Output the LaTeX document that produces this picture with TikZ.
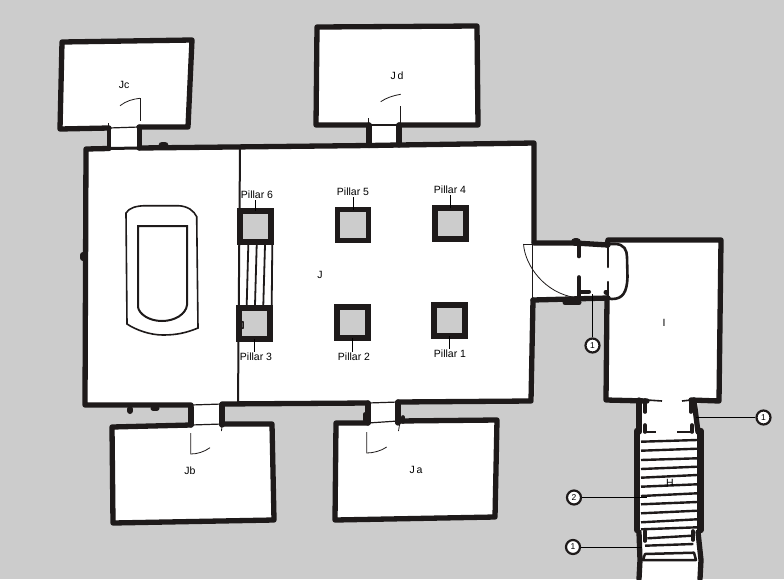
\documentclass[tikz,border=0pt]{standalone}
\usepackage{fontspec}
\setmainfont{Liberation Sans}
\definecolor{bggray}{HTML}{CCCCCC}
\definecolor{wallc}{HTML}{1E1A1A}
\tikzset{
  wall/.style={draw=wallc,line width=5.3pt,line join=round,line cap=round},
  midwall/.style={draw=wallc,line width=3.5pt,line join=round,line cap=round},
  jamb/.style={draw=wallc,line width=3.6pt,line cap=round},
  thinwall/.style={draw=wallc,line width=1.6pt},
  doorline/.style={draw=wallc,line width=1.2pt},
  tread/.style={draw=wallc,line width=2.4pt},
  hair/.style={draw=wallc,line width=0.8pt},
  pillarbox/.style={draw=wallc,fill=bggray,line width=5.5pt,inner sep=0pt,outer sep=0pt,minimum width=#1,minimum height=#1},
  lab/.style={font=\fontsize{10.5}{12}\selectfont,inner sep=0.5pt,text=black},
  callout/.style={circle,draw=wallc,fill=white,line width=2.2pt,minimum size=14pt,inner sep=0pt,font=\fontsize{8.5}{10}\selectfont},
  leader/.style={draw=black,line width=1pt}
}
\begin{document}
\begin{tikzpicture}[x=1pt,y=-1pt]
\useasboundingbox (0,0) rectangle (784,579);
\fill[bggray] (0,0) rectangle (784,579);
% floors
\fill[white] (86,149) -- (534,143) -- (534,401) -- (85,405) -- cycle;
\fill[white] (62,41) -- (192,39) -- (188,128) -- (60,129) -- cycle;
\fill[white] (109,126) rectangle (139,149);
\fill[white] (317,26) -- (477,26) -- (478,125) -- (316,125) -- cycle;
\fill[white] (369,123) rectangle (399,146);
\fill[white] (112,427) -- (272,424) -- (274,521) -- (113,523) -- cycle;
\fill[white] (191,403) rectangle (222,428);
\fill[white] (336,423) -- (497,420) -- (495,517) -- (335,520) -- cycle;
\fill[white] (368,400) rectangle (398,424);
\fill[white] (533,243) -- (608,245) -- (615,245) .. controls (624,244) and (627,250) .. (627,257) -- (627,277) .. controls (627,292) and (623,299) .. (612,299) -- (533,300) -- cycle;
\fill[white] (608,239) -- (721,239) -- (720,401) -- (606,401) -- cycle;
\fill[white] (639,400) -- (698,400) -- (701,579) -- (639,579) -- cycle;
% hall
\draw[wall] (534,242) -- (534,143) -- (399,145) -- (369,145.5);
\draw[wall] (369,145.5) -- (139,148);
\draw[wall] (109,148.5) -- (86,149) -- (85,405) -- (191,405);
\draw[wall,line width=3pt] (109,148.5) -- (139,148);
\draw[wall] (222,404) -- (368,403);
\draw[wall] (398,402) -- (531,401) -- (533,300);
\draw[doorline] (191,405) -- (222,404);
\draw[doorline] (368,403) -- (398,402);
\draw[doorline] (369,145.5) -- (399,145);
\draw[draw=wallc,line width=2pt] (240,149) -- (238,405);
% Jc
\draw[wall] (109,128) -- (60,129) -- (62,42) -- (192,40) -- (188,127) -- (139,127);
\draw[midwall,line width=4.5pt] (109,128) -- (109,148);
\draw[midwall,line width=5pt] (139,127) -- (139,148);
\draw[doorline] (109,128) -- (139,127);
\draw[hair] (140.3,98) -- (140.3,121);
\draw[hair] (120,105.7) .. controls (126,101) and (133,99) .. (140,98.3);
\draw[hair] (108.5,123) -- (108.5,128);
\draw[wall,line width=7pt] (162,145) -- (165,145);
% Jd
\draw[wall] (369,125) -- (316,125) -- (317,27) -- (477,26) -- (478,125) -- (399,125);
\draw[wall] (369,125) -- (369,145);
\draw[wall] (399,125) -- (399,145);
\draw[doorline] (369,125) -- (399,125);
\draw[hair] (400.7,106) -- (400.7,123);
\draw[hair] (380.7,101.7) .. controls (386,98) and (393,95.5) .. (400.7,94.3);
\draw[hair] (368.5,118) -- (368.5,123);
% Jb
\draw[wall] (191,425) -- (112,427) -- (113,523) -- (274,520) -- (272,424) -- (222,424);
\draw[wall] (191,407) -- (191,425);
\draw[wall] (222,405) -- (222,425);
\draw[doorline] (191,425) -- (222,424);
\draw[hair] (190.7,433) -- (190.7,454) .. controls (197,454) and (204,452) .. (210,447.7);
\draw[hair] (222,425) -- (221.5,431);
\draw[wall,line width=6pt] (130,409) -- (130,411);
\draw[wall,line width=5pt] (153,408) -- (157,408);
% Ja
\draw[wall] (368,423) -- (336,423) -- (335,520) -- (495,517) -- (497,420) -- (398,421);
\draw[wall] (368,403) -- (368,423);
\draw[wall] (398,402) -- (398,423);
\draw[doorline] (368,423) -- (398,421);
\draw[hair] (366.7,432) -- (366.7,453) .. controls (373,453) and (381,451) .. (386.7,447);
\draw[hair] (399.5,425) -- (398.5,431);
\draw[jamb] (365,414) -- (365,420);
\draw[jamb] (403,417) -- (403,422);
% hall stubs
\draw[wall,line width=6pt] (83,255) -- (83,258);
% tub
\draw[draw=wallc,line width=1.6pt] (126,213) .. controls (129,208) and (136,205.7) .. (146,205.7) -- (178,205.7) .. controls (188,206) and (194,211) .. (196.7,216.7) -- (198,328) .. controls (186,333) and (176,335) .. (163,335) .. controls (150,335) and (136,330) .. (127,324) -- cycle;
\draw[draw=wallc,line width=2pt] (138,226) -- (187,226) -- (187,305) .. controls (186,314) and (175,321) .. (162,321) .. controls (149,321) and (139,314) .. (138,307) -- cycle;
% stair between pillars
\draw[tread,line width=1.8pt] (248.3,245) -- (246.7,305) (256.7,245) -- (255,305) (265,245) -- (263.3,305) (272.3,245) -- (271.7,305);
% pillars
\node[pillarbox=31pt] (p6) at (255.5,226.5) {};
\node[pillarbox=31pt] (p5) at (353,225) {};
\node[pillarbox=31pt] (p4) at (450.5,223.5) {};
\node[pillarbox=31pt] (p3) at (254.5,323.5) {};
\node[pillarbox=31pt] (p2) at (352.5,322.5) {};
\node[pillarbox=31pt] (p1) at (449.5,320.5) {};
\draw[draw=wallc,line width=1.5pt] (240,321) -- (243,322) -- (243,328) -- (240,329);
\node[lab] (l6) at (257,195) {Pillar 6};
\node[lab] (l5) at (353,192) {Pillar 5};
\node[lab] (l4) at (450,190) {Pillar 4};
\node[lab] (l3) at (256,357) {Pillar 3};
\node[lab] (l2) at (354,357) {Pillar 2};
\node[lab] (l1) at (450,354) {Pillar 1};
\draw[leader] (p6.north) -- (p6.north |- l6.south);
\draw[leader] (p5.north) -- (p5.north |- l5.south);
\draw[leader] (p4.north) -- (p4.north |- l4.south);
\draw[leader] (p3.south) -- (p3.south |- l3.north);
\draw[leader] (p2.south) -- (p2.south |- l2.north);
\draw[leader] (p1.south) -- (p1.south |- l1.north);
% anteroom
\draw[hair] (532,243) -- (532,300);
\draw[wall] (534,243) -- (575,243) -- (608,245);
\draw[wall] (533,300) -- (608,298);
\draw[wall,line width=8pt] (575,242) -- (577,242);
\draw[wall,line width=5pt] (565,302.5) -- (579,302.5);
\draw[jamb] (579,245) -- (579,256.5);
\draw[jamb] (579,277) -- (579,298);
\draw[jamb,line width=2.5pt] (608,245) -- (608,267);
\draw[jamb,line width=2.5pt] (608,282) -- (608,298);
\draw[jamb,line width=4pt] (580,291.7) -- (589,291.7);
\draw[jamb,line width=5pt] (606,292) -- (606.5,292);
\draw[draw=wallc,line width=2.6pt] (608,244) -- (615,244) .. controls (624,244) and (627,250) .. (627,257) -- (627.5,277) .. controls (627,292) and (623,299) .. (612,299) -- (608,298.5);
\draw[hair] (523,244) -- (533,244);
\draw[hair] (523.5,244) .. controls (525,266) and (545,293) .. (575,297.5);
% treads
\draw[tread] (641,441.7) -- (697,440);
\draw[tread] (641,450.7) -- (697,448.7);
\draw[tread] (641,460) -- (697,458.3);
\draw[tread] (641,469) -- (697,466.7);
\draw[tread] (641,477.7) -- (697,475);
\draw[tread] (641,486.7) -- (697,484.3);
\draw[tread] (641,496) -- (697,493.3);
\draw[tread] (641,504.3) -- (697,502);
\draw[tread] (641,513.3) -- (697,510.7);
\draw[tread] (641,522.3) -- (697,519.3);
\draw[tread] (641,529.3) -- (697,527.3);
\draw[tread] (647.3,538.3) -- (691.7,535.7);
\draw[tread] (645,545.7) -- (693.3,544);
\draw[draw=wallc,line width=2.5pt,line join=round] (643,560) -- (645,554) -- (694,552.7) -- (696,560) -- cycle;
% room I
\draw[wall] (647,401) -- (606,400) -- (607,298);
\draw[wall] (607,245) -- (608,240) -- (721,240) -- (719,401) -- (691,400);
\draw[thinwall] (647,400) -- (662,401);
\draw[thinwall] (682,401) -- (691,400);
% corridor
\draw[wall] (639,400) -- (639,432);
\draw[wall] (694,400) -- (698,432);
\draw[jamb] (645,400) -- (645,412);
\draw[jamb] (691,401) -- (691,412);
\draw[jamb] (645,425) -- (645,432);
\draw[jamb] (692,425) -- (692,432);
\draw[thinwall] (645,432) -- (656,432);
\draw[thinwall] (677,432) -- (692,432);
% stair walls
\draw[wall,line width=6.5pt] (637,431) -- (637,530);
\draw[wall,line width=6.5pt] (700.5,431) -- (700.5,530);
\draw[wall] (639,532) -- (640,560) -- (639,579);
\draw[wall] (698,532) -- (701,560) -- (700,579);
\draw[jamb] (645,531) -- (645,541);
\draw[jamb] (693,531) -- (693,540);
% callouts
\node[callout] (c1) at (592.5,345.5) {1};
\node[callout] (c2) at (763.5,417.5) {1};
\node[callout] (c3) at (574,497.5) {2};
\node[callout] (c4) at (573,547) {1};
\coordinate (e1) at (592.5,294);
\coordinate (e2) at (695.7,417.5);
\coordinate (e3) at (646.7,497.5);
\coordinate (e4) at (641.7,547);
\draw[leader] (c1) -- (e1);
\draw[leader] (c2) -- (e2);
\draw[leader] (c3) -- (e3);
\draw[leader] (c4) -- (e4);
% room labels
\node[lab] (tJ) at (320,275) {J};
\node[lab] (tI) at (664,323) {I};
\node[lab] (tH) at (670,483) {H};
\node[lab] (tJc) at (124,85) {Jc};
\node[lab] (tJd) at (397,76) {J\,d};
\node[lab] (tJb) at (190,471) {Jb};
\node[lab] (tJa) at (416,470) {J\,a};
\end{tikzpicture}
\end{document}
